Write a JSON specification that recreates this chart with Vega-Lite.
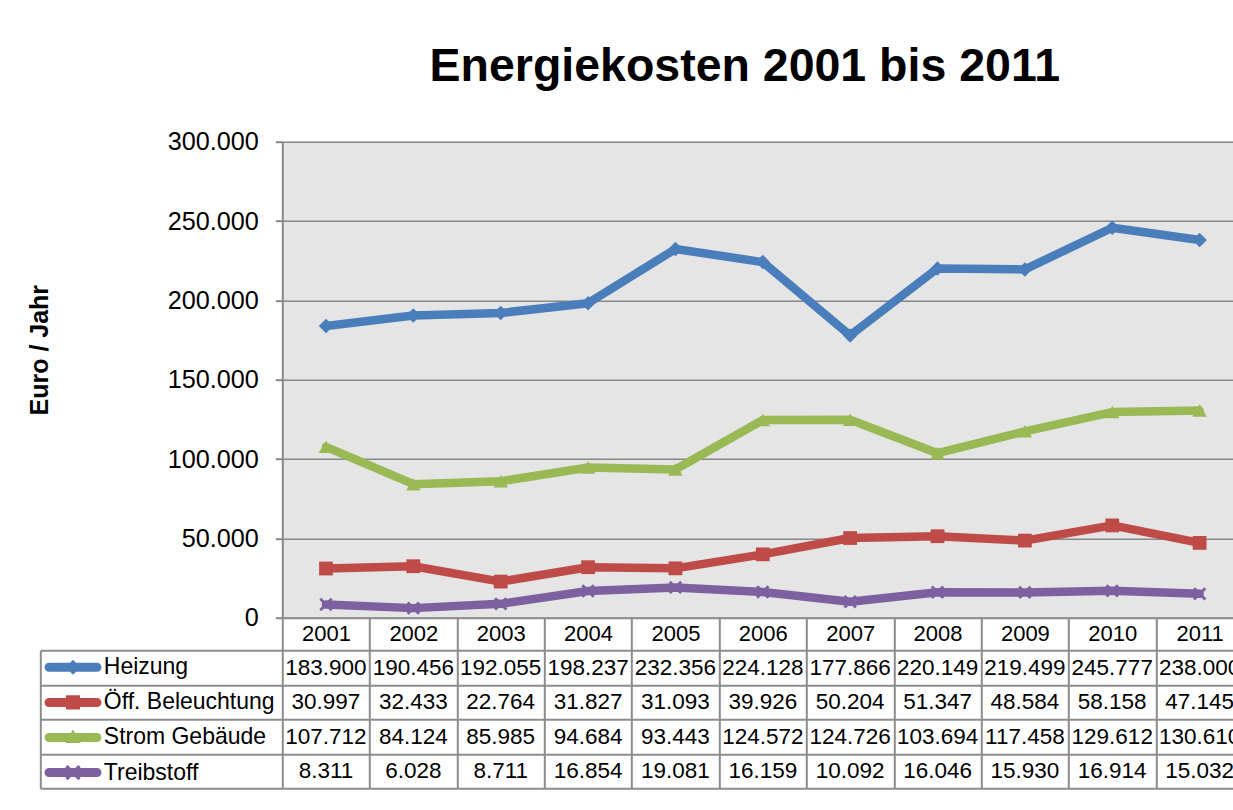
{
  "$schema": "https://vega.github.io/schema/vega-lite/v6.json",
  "padding": {"left": 26.3, "top": 43.7, "right": 0, "bottom": 0},
  "background": "white",
  "config": {
    "font": "Liberation Sans",
    "locale": {"number": {"decimal": ",", "thousands": ".", "grouping": [3], "currency": ["", " €"]}},
    "view": {"stroke": null}
  },
  "data": {"values": [
    {"series": "Heizung", "year": "2001", "value": 183900},
    {"series": "Heizung", "year": "2002", "value": 190456},
    {"series": "Heizung", "year": "2003", "value": 192055},
    {"series": "Heizung", "year": "2004", "value": 198237},
    {"series": "Heizung", "year": "2005", "value": 232356},
    {"series": "Heizung", "year": "2006", "value": 224128},
    {"series": "Heizung", "year": "2007", "value": 177866},
    {"series": "Heizung", "year": "2008", "value": 220149},
    {"series": "Heizung", "year": "2009", "value": 219499},
    {"series": "Heizung", "year": "2010", "value": 245777},
    {"series": "Heizung", "year": "2011", "value": 238000},
    {"series": "Öff. Beleuchtung", "year": "2001", "value": 30997},
    {"series": "Öff. Beleuchtung", "year": "2002", "value": 32433},
    {"series": "Öff. Beleuchtung", "year": "2003", "value": 22764},
    {"series": "Öff. Beleuchtung", "year": "2004", "value": 31827},
    {"series": "Öff. Beleuchtung", "year": "2005", "value": 31093},
    {"series": "Öff. Beleuchtung", "year": "2006", "value": 39926},
    {"series": "Öff. Beleuchtung", "year": "2007", "value": 50204},
    {"series": "Öff. Beleuchtung", "year": "2008", "value": 51347},
    {"series": "Öff. Beleuchtung", "year": "2009", "value": 48584},
    {"series": "Öff. Beleuchtung", "year": "2010", "value": 58158},
    {"series": "Öff. Beleuchtung", "year": "2011", "value": 47145},
    {"series": "Strom Gebäude", "year": "2001", "value": 107712},
    {"series": "Strom Gebäude", "year": "2002", "value": 84124},
    {"series": "Strom Gebäude", "year": "2003", "value": 85985},
    {"series": "Strom Gebäude", "year": "2004", "value": 94684},
    {"series": "Strom Gebäude", "year": "2005", "value": 93443},
    {"series": "Strom Gebäude", "year": "2006", "value": 124572},
    {"series": "Strom Gebäude", "year": "2007", "value": 124726},
    {"series": "Strom Gebäude", "year": "2008", "value": 103694},
    {"series": "Strom Gebäude", "year": "2009", "value": 117458},
    {"series": "Strom Gebäude", "year": "2010", "value": 129612},
    {"series": "Strom Gebäude", "year": "2011", "value": 130610},
    {"series": "Treibstoff", "year": "2001", "value": 8311},
    {"series": "Treibstoff", "year": "2002", "value": 6028},
    {"series": "Treibstoff", "year": "2003", "value": 8711},
    {"series": "Treibstoff", "year": "2004", "value": 16854},
    {"series": "Treibstoff", "year": "2005", "value": 19081},
    {"series": "Treibstoff", "year": "2006", "value": 16159},
    {"series": "Treibstoff", "year": "2007", "value": 10092},
    {"series": "Treibstoff", "year": "2008", "value": 16046},
    {"series": "Treibstoff", "year": "2009", "value": 15930},
    {"series": "Treibstoff", "year": "2010", "value": 16914},
    {"series": "Treibstoff", "year": "2011", "value": 15032}
  ]},
  "bounds": "flush",
  "spacing": 32.6,
  "resolve": {"scale": {"color": "independent", "shape": "independent"}, "legend": {"color": "independent", "shape": "independent"}},
  "vconcat": [
    {
      "width": 961,
      "height": 476,
      "title": {"text": "Energiekosten 2001 bis 2011", "fontSize": 46.5, "fontWeight": "bold", "color": "black", "anchor": "middle", "dx": -18, "baseline": "alphabetic", "offset": 1.7},
      "view": {"fill": "#e5e5e5", "stroke": null},
      "encoding": {
        "x": {"field": "year", "type": "ordinal", "bandPosition": 0.5,
          "scale": {"type": "band", "paddingInner": 0, "paddingOuter": 0},
          "axis": {"orient": "bottom", "title": null, "tickBand": "extent", "tickSize": 32.6, "tickColor": "#8c8c8c", "tickWidth": 2, "domainColor": "#8c8c8c", "domainWidth": 2, "labelFontSize": 22, "labelColor": "black", "labelAngle": 0, "labelPadding": -9.3, "labelBaseline": "alphabetic", "grid": false}},
        "y": {"field": "value", "type": "quantitative",
          "scale": {"domain": [0, 300000], "nice": false},
          "axis": {"values": [0, 50000, 100000, 150000, 200000, 250000, 300000], "format": ",d", "grid": true, "gridColor": "#878787", "gridWidth": 1.6, "domainColor": "#878787", "domainWidth": 2, "tickColor": "#878787", "tickWidth": 2, "tickSize": 7, "labelFontSize": 25.2, "labelColor": "black", "labelPadding": 17, "title": "Euro / Jahr", "titleFontSize": 25, "titleFontWeight": "bold", "titleColor": "black", "titleX": -235.3, "titleY": 208, "titleAngle": 270, "titleAlign": "center", "titleBaseline": "alphabetic"}}
      },
      "layer": [
        {
          "mark": {"type": "point", "filled": true, "size": 484, "opacity": 0},
          "encoding": {
            "color": {"field": "series", "type": "nominal",
              "scale": {"domain": ["Heizung", "Öff. Beleuchtung", "Strom Gebäude", "Treibstoff"], "range": ["#4A7EBB", "#BE4B48", "#98B954", "#7D60A0"]},
              "legend": {"orient": "none", "legendX": -220.8, "legendY": 514.1, "title": null, "symbolSize": 484, "symbolStrokeWidth": 0, "symbolOpacity": 1, "labelFontSize": 23, "labelColor": "black", "labelOffset": 19.3, "rowPadding": 11.1, "padding": 0, "labelLimit": 400}},
            "shape": {"field": "series", "type": "nominal",
              "scale": {"domain": ["Heizung", "Öff. Beleuchtung", "Strom Gebäude", "Treibstoff"], "range": [
                "M-2.18,-0.41H2.18A0.41,0.41 0 0 1 2.18,0.41H-2.18A0.41,0.41 0 0 1 -2.18,-0.41Z M-0.68,0L0,-0.68L0.68,0L0,0.68Z",
                "M-2.18,-0.41H2.18A0.41,0.41 0 0 1 2.18,0.41H-2.18A0.41,0.41 0 0 1 -2.18,-0.41Z M-0.64,-0.64H0.64V0.64H-0.64Z",
                "M-2.18,-0.41H2.18A0.41,0.41 0 0 1 2.18,0.41H-2.18A0.41,0.41 0 0 1 -2.18,-0.41Z M0,-0.75L0.7,0.5L-0.7,0.5Z",
                "M-2.18,-0.41H2.18A0.41,0.41 0 0 1 2.18,0.41H-2.18A0.41,0.41 0 0 1 -2.18,-0.41Z M-0.7,-0.49L-0.49,-0.7L0,-0.21L0.49,-0.7L0.7,-0.49L0.21,0L0.7,0.49L0.49,0.7L0,0.21L-0.49,0.7L-0.7,0.49L-0.21,0Z"]},
              "legend": null}
          }
        },
        {
          "mark": {"type": "line", "strokeWidth": 8.5, "strokeJoin": "round", "strokeCap": "round"},
          "encoding": {
            "color": {"field": "series", "type": "nominal",
              "scale": {"domain": ["Heizung", "Öff. Beleuchtung", "Strom Gebäude", "Treibstoff"], "range": ["#4A7EBB", "#BE4B48", "#98B954", "#7D60A0"]},
              "legend": {"orient": "none", "legendX": -220.8, "legendY": 514.1, "title": null, "symbolSize": 484, "symbolStrokeWidth": 0, "symbolOpacity": 1, "labelFontSize": 23, "labelColor": "black", "labelOffset": 19.3, "rowPadding": 11.1, "padding": 0, "labelLimit": 400}}
          }
        },
        {
          "transform": [{"filter": {"field": "series", "equal": "Heizung"}}],
          "mark": {"type": "point", "filled": true, "size": 210, "opacity": 1, "shape": "diamond", "color": "#4A7EBB"}
        },
        {
          "transform": [{"filter": {"field": "series", "equal": "Öff. Beleuchtung"}}],
          "mark": {"type": "point", "filled": true, "size": 190, "opacity": 1, "shape": "square", "color": "#BE4B48"}
        },
        {
          "transform": [{"filter": {"field": "series", "equal": "Strom Gebäude"}}],
          "mark": {"type": "point", "filled": true, "size": 210, "opacity": 1, "shape": "triangle-up", "color": "#98B954"}
        },
        {
          "transform": [{"filter": {"field": "series", "equal": "Treibstoff"}}],
          "mark": {"type": "point", "filled": true, "size": 180, "opacity": 1, "shape": "M-1,-0.7L-0.7,-1L0,-0.3L0.7,-1L1,-0.7L0.3,0L1,0.7L0.7,1L0,0.3L-0.7,1L-1,0.7L-0.3,0Z", "color": "#7D60A0"}
        }
      ]
    },
    {
      "width": 961,
      "height": 138,
      "mark": {"type": "text", "fontSize": 22.5, "color": "black"},
      "encoding": {
        "x": {"field": "year", "type": "ordinal",
          "scale": {"type": "band", "paddingInner": 0, "paddingOuter": 0},
          "axis": {"title": null, "labels": false, "ticks": false, "domain": false, "grid": true, "tickBand": "extent", "gridColor": "#8c8c8c", "gridWidth": 2}},
        "y": {"field": "series", "type": "nominal",
          "scale": {"domain": ["Heizung", "Öff. Beleuchtung", "Strom Gebäude", "Treibstoff"], "paddingInner": 0, "paddingOuter": 0},
          "axis": {"title": null, "labels": false, "offset": 242, "domain": true, "domainColor": "#8c8c8c", "domainWidth": 2, "ticks": true, "tickSize": -242, "tickColor": "#8c8c8c", "tickWidth": 2, "tickBand": "extent", "grid": true, "gridColor": "#8c8c8c", "gridWidth": 2}},
        "text": {"field": "value", "type": "quantitative", "format": ",d"}
      }
    }
  ]
}
